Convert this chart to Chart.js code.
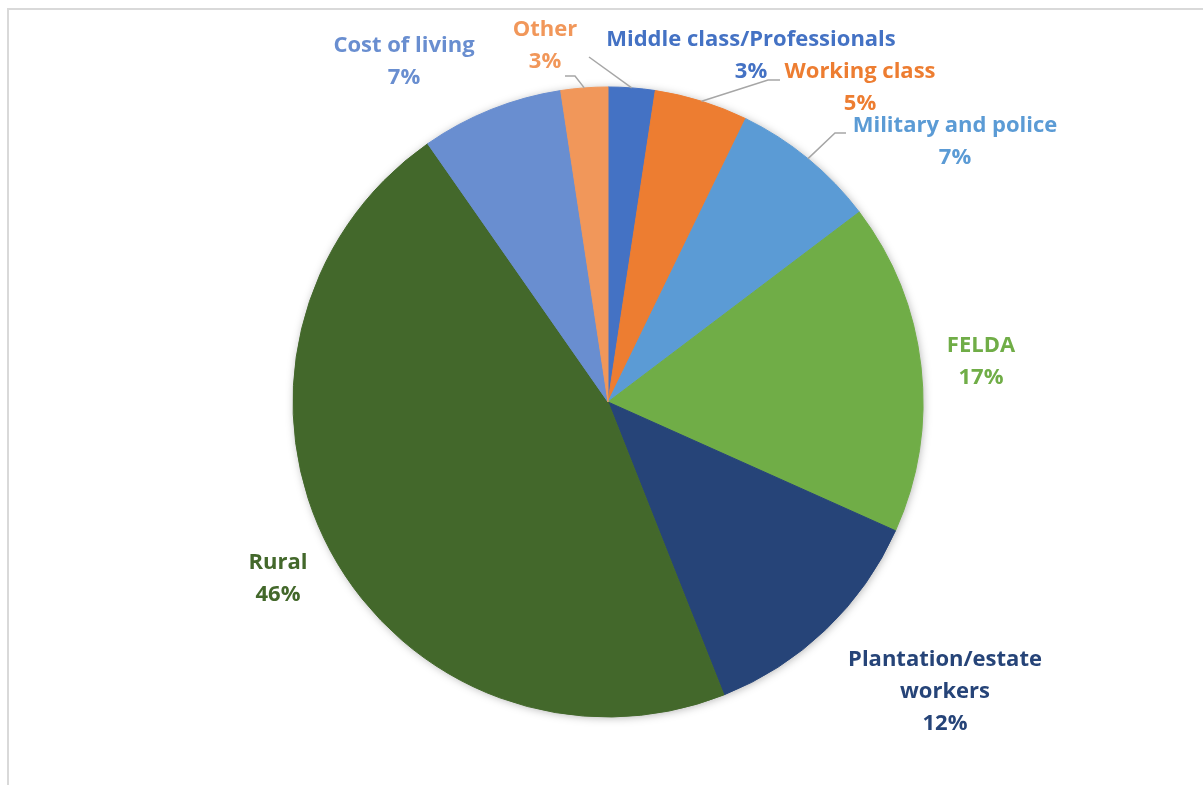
<!DOCTYPE html>
<html>
<head>
<meta charset="utf-8">
<script src="https://cdn.jsdelivr.net/npm/chart.js@4"></script>
<style>
  html, body { margin: 0; padding: 0; background: #fff; }
  #wrap { position: relative; width: 1203px; height: 785px; overflow: hidden; }
  #frame { position: absolute; left: 7px; top: 8px; right: -10px; bottom: -10px;
           border-left: 2px solid #d9d9d9; border-top: 2px solid #d9d9d9; }
  canvas { position: absolute; left: 0; top: 0; }
</style>
</head>
<body>
<div id="wrap">
  <div id="frame"></div>
  <canvas id="pie-chart" width="1203" height="785"></canvas>
</div>
<script>
// Data (clockwise from 12 o'clock)
const categories = [
  "Middle class/Professionals", "Working class", "Military and police", "FELDA",
  "Plantation/estate workers", "Rural", "Cost of living", "Other"
];
const shares = [2.4, 4.8, 7.5, 17.0, 12.3, 46.3, 7.3, 2.4];
const shareLabels = ["3%", "5%", "7%", "17%", "12%", "46%", "7%", "3%"];
const colors = ["#4472C4", "#ED7D31", "#5B9BD5", "#70AD47", "#264478", "#43682B", "#698ED0", "#F1975A"];

// Label layout: text lines, centre x, first line y, leader line (elbow, end)
const labelLines = [
  ["Middle class/Professionals", "3%"],
  ["Working class", "5%"],
  ["Military and police", "7%"],
  ["FELDA", "17%"],
  ["Plantation/estate", "workers", "12%"],
  ["Rural", "46%"],
  ["Cost of living", "7%"],
  ["Other", "3%"]
];
const labelPos = [
  [751, 40], [860, 72], [955, 126], [981, 346],
  [945, 660], [278, 563], [404, 46], [545, 30]
];
const leaders = [
  [[589, 57]],
  [[768, 80], [780, 80]],
  [[835, 133], [846, 133]],
  null, null, null, null,
  [[575, 76], [565, 76]]
];

// Soft shadow behind the pie
const pieShadow = {
  id: "pieShadow",
  beforeDatasetsDraw(chart) {
    const arc = chart.getDatasetMeta(0).data[0];
    if (!arc) return;
    const ctx = chart.ctx;
    ctx.save();
    ctx.shadowColor = "rgba(0,0,0,0.35)";
    ctx.shadowBlur = 10;
    ctx.shadowOffsetX = 1;
    ctx.shadowOffsetY = 1;
    ctx.fillStyle = "#ffffff";
    ctx.beginPath();
    ctx.arc(arc.x, arc.y, arc.outerRadius - 1, 0, Math.PI * 2);
    ctx.fill();
    ctx.restore();
  }
};

// Data labels with leader lines
const sliceLabels = {
  id: "sliceLabels",
  afterDatasetsDraw(chart) {
    const ctx = chart.ctx;
    const arcs = chart.getDatasetMeta(0).data;
    ctx.save();
    arcs.forEach((arc, i) => {
      const legs = leaders[i];
      if (legs) {
        const mid = (arc.startAngle + arc.endAngle) / 2;
        ctx.strokeStyle = "#A6A6A6";
        ctx.lineWidth = 1.5;
        ctx.beginPath();
        ctx.moveTo(arc.x + Math.cos(mid) * arc.outerRadius, arc.y + Math.sin(mid) * arc.outerRadius);
        legs.forEach(p => ctx.lineTo(p[0], p[1]));
        ctx.stroke();
      }
      ctx.fillStyle = colors[i];
      ctx.font = "bold 22px 'Open Sans'";
      ctx.textAlign = "center";
      ctx.textBaseline = "middle";
      const [x, y] = labelPos[i];
      const lines = labelLines[i].slice(0, -1).concat(shareLabels[i]);
      lines.forEach((t, k) => ctx.fillText(t, x, y + k * 32));
    });
    ctx.restore();
  }
};

const ctx = document.getElementById("pie-chart").getContext("2d");
new Chart(ctx, {
  type: "pie",
  data: {
    labels: categories,
    datasets: [{
      data: shares,
      backgroundColor: colors,
      borderColor: colors,
      borderWidth: 1,
      radius: 315
    }]
  },
  options: {
    responsive: false,
    animation: false,
    layout: { padding: { top: 87, bottom: 68, left: 293, right: 280 } },
    plugins: {
      legend: { display: false },
      tooltip: { enabled: false }
    }
  },
  plugins: [pieShadow, sliceLabels]
});
</script>
</body>
</html>
